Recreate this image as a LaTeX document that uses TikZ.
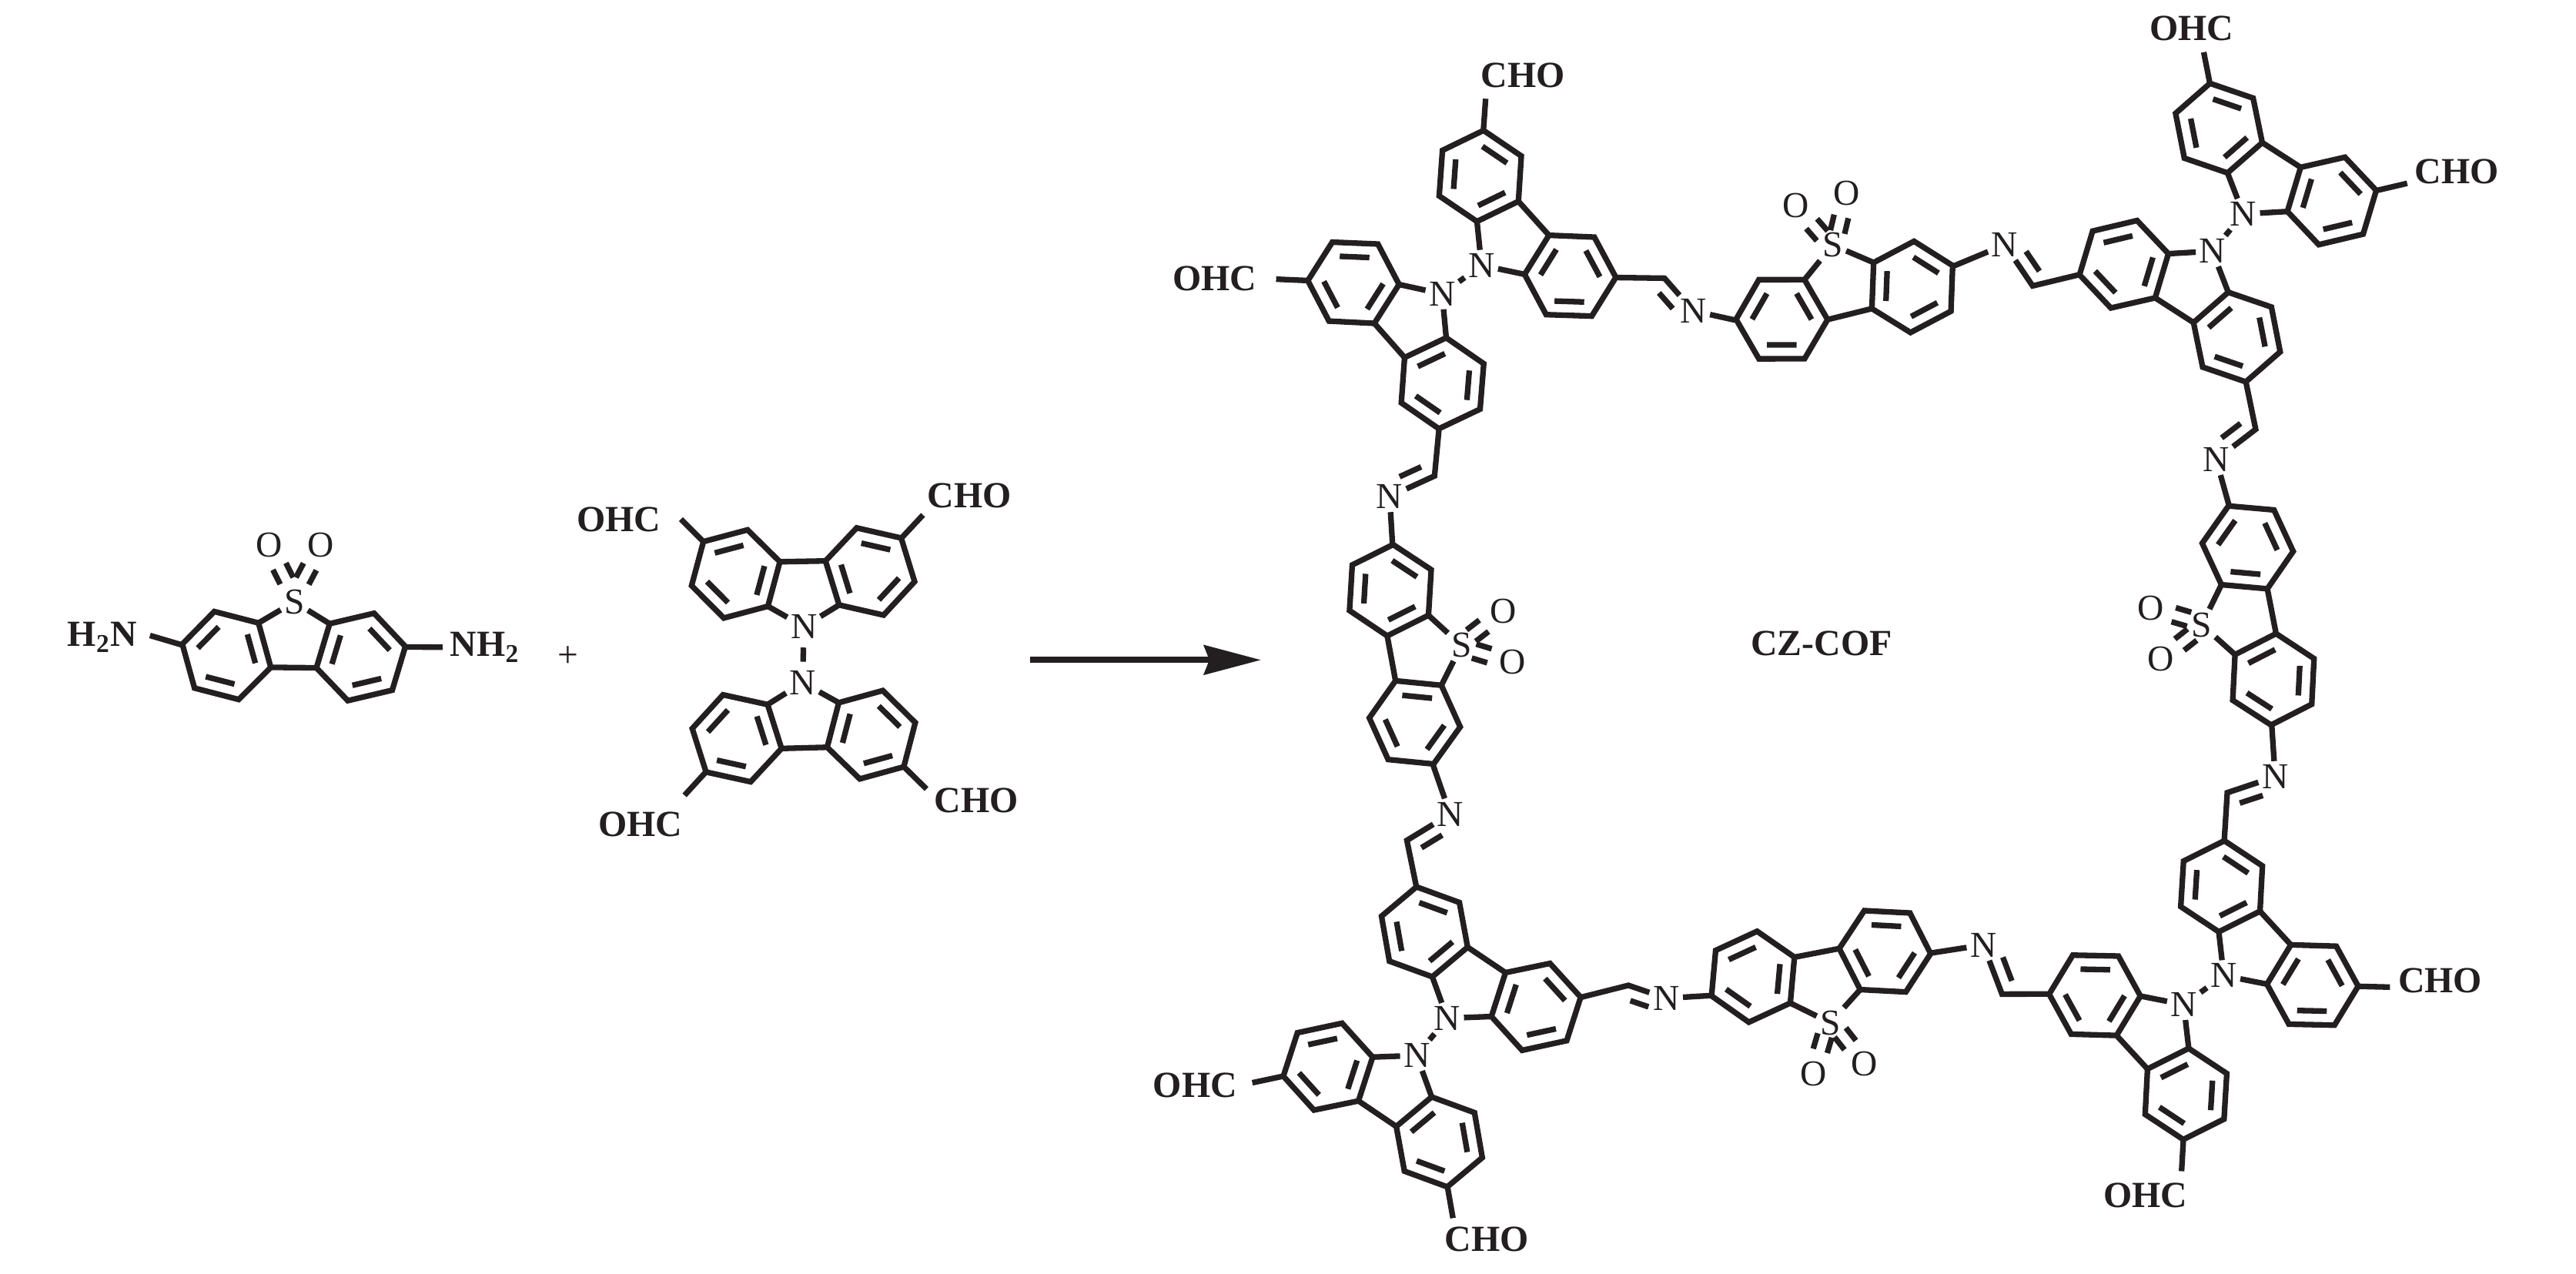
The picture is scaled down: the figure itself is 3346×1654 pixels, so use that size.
\documentclass[tikz,border=0pt]{standalone}
\usepackage{fontspec}
\setmainfont{Liberation Serif}
\usepackage{tikz}
\usetikzlibrary{calc,arrows.meta}
\definecolor{ink}{HTML}{231F20}
\tikzset{
  bond/.style={draw=ink,line width=0.073cm,line join=miter},
  atom/.style={text=ink,inner sep=0.04cm,font=\fontsize{13.5pt}{14pt}\selectfont},
  grp/.style={text=ink,inner sep=0pt,font=\fontsize{13.6pt}{14pt}\selectfont\bfseries}
}
\newcommand{\dbl}[3]{\draw[bond] ($(#3)!0.65!(#1)$) -- ($(#3)!0.65!(#2)$);}
\newcommand{\stub}[1]{\draw[bond] (#14) -- ($(#14)!-0.65!(#1c)$);}
\newcommand{\imine}[2]{\draw[bond] ($(#1)!0.17!(#2)!-0.18cm!90:(#2)$) -- ($(#1)!0.65!(#2)!-0.18cm!90:(#2)$);}
\newcommand{\tricyc}[6]{
  \begin{scope}[shift={(#2,#3)},rotate=#4,scale=60]
    \node[atom] (#1x) at (0,#6) {#5};
    \foreach \sg/\sd in {-1/l,1/r}{
      \coordinate (#1\sd1) at (\sg*0.78,0.49);
      \coordinate (#1\sd2) at (\sg*0.5,1.46);
      \coordinate (#1\sd3) at (\sg*1.196,2.172);
      \coordinate (#1\sd4) at (\sg*2.167,1.932);
      \coordinate (#1\sd5) at (\sg*2.444,0.971);
      \coordinate (#1\sd6) at (\sg*1.751,0.25);
      \coordinate (#1\sd c) at (\sg*1.47,1.21);
      \draw[bond] (#1\sd1) -- (#1\sd2) -- (#1\sd3) -- (#1\sd4) -- (#1\sd5) -- (#1\sd6) -- cycle;
      \dbl{#1\sd1}{#1\sd2}{#1\sd c} \dbl{#1\sd3}{#1\sd4}{#1\sd c} \dbl{#1\sd5}{#1\sd6}{#1\sd c}
      \draw[bond] (#1\sd1) -- (#1x);
    }
    \draw[bond] (#1l2) -- (#1r2);
  \end{scope}}
\newcommand{\sulfone}[6]{
  \tricyc{#1}{#2}{#3}{#4}{S}{#5}
  \begin{scope}[shift={(#2,#3)},rotate=#4,scale=60,shift={(0,#6)}]
    \foreach \sg/\sd in {-1/l,1/r}{
      \node[atom] (#1o\sd) at (\sg*0.56,-1.12) {O};
      \draw[bond] (\sg*0.31,-0.27) -- (\sg*0.47,-0.58);
      \draw[bond] (\sg*0.03,-0.42) -- (\sg*0.19,-0.73);
    }
  \end{scope}}
\begin{document}
\begin{tikzpicture}[x=0.01cm,y=0.01cm]
  \useasboundingbox (0,0) rectangle (3346,-1654);
  % monomers
  \sulfone{sm}{382.3}{-780.7}{179.4}{0.02}{-0.09}
  \node[grp] (nl) at (133,-828) {H\textsubscript{2}N};
  \node[grp] (nr) at (630,-841) {NH\textsubscript{2}};
  \coordinate (nle) at (194.8,-825.5); \coordinate (nre) at (574.8,-840.7);
  \draw[bond] (smr5) -- (nle); \draw[bond] (sml5) -- (nre);
  \node[atom] (plus) at (737.7,-852.6) {+};
  \tricyc{ca}{1044.2}{-815.75}{1}{N}{0.03}
  \tricyc{cb}{1042.5}{-885}{181.5}{N}{0.03}
  \draw[bond,shorten >=0.07cm,shorten <=0.07cm] (cax) -- (cbx);
  \stub{cal} \stub{car} \stub{cbl} \stub{cbr}
  \node[grp] (t1) at (803.8,-675) {OHC};
  \node[grp] (t2) at (1259,-644) {CHO};
  \node[grp] (t3) at (1268,-1040) {CHO};
  \node[grp] (t4) at (832,-1071) {OHC};
  % reaction arrow
  \coordinate (arl) at (1338,-857.3); \coordinate (arr) at (1638,-857.3);
  \draw[draw=ink,line width=0.08cm,-{Stealth[length=0.74cm,width=0.38cm,inset=0.07cm,fill=ink]}] (arl) -- (arr);
  % corners of the ring
  \tricyc{pa}{1927.8}{-341.5}{-48}{N}{-0.08}
  \tricyc{pb}{1869.6}{-384.9}{131.5}{N}{-0.08}
  \tricyc{qa}{2916.5}{-274.1}{-32.8}{N}{-0.08}
  \tricyc{qb}{2871.1}{-330.2}{147.2}{N}{-0.08}
  \tricyc{ua}{2891.9}{-1264.1}{-47.4}{N}{-0.08}
  \tricyc{ub}{2832.9}{-1308.2}{132.7}{N}{-0.08}
  \tricyc{va}{1882.6}{-1318.8}{-33.9}{N}{-0.08}
  \tricyc{vb}{1837.5}{-1375}{146}{N}{-0.08}
  \foreach \pr in {pa/pb,qa/qb,ua/ub,va/vb}{
    \foreach \ca/\cb in \pr {\draw[bond] (\ca x) -- (\cb x);}
  }
  % sides of the ring
  \sulfone{st}{2381.8}{-324}{193.9}{-0.1}{0}
  \sulfone{sr}{2865.7}{-810.5}{-79}{-0.1}{0}
  \sulfone{sb}{2376.3}{-1322.8}{10.9}{-0.1}{0}
  \sulfone{sl}{1892.4}{-839.5}{100.4}{-0.1}{0}
  % imine links
  \coordinate (h1) at (2162,-361.4);   \node[atom] (n1) at (2199.3,-403.8) {N};
  \coordinate (h2) at (2640.2,-371.4); \node[atom] (n2) at (2604,-317.9) {N};
  \coordinate (h3) at (2929.9,-557.7); \node[atom] (n3) at (2878.6,-596.9) {N};
  \coordinate (h4) at (2893,-1029.7);  \node[atom] (n4) at (2955.2,-1009) {N};
  \coordinate (h5) at (2600.4,-1291.4);\node[atom] (n5) at (2576.2,-1227.5) {N};
  \coordinate (h6) at (2115.1,-1280);  \node[atom] (n6) at (2164.2,-1296.7) {N};
  \coordinate (h7) at (1827.4,-1091.7);\node[atom] (n7) at (1883.5,-1057.5) {N};
  \coordinate (h8) at (1863.3,-618.3); \node[atom] (n8) at (1805,-645) {N};
  \draw[bond] (par4) -- (h1) -- (n1) -- (str5);
  \draw[bond] (qbr4) -- (h2) -- (n2) -- (stl5);
  \draw[bond] (qbl4) -- (h3) -- (n3) -- (srl5);
  \draw[bond] (ual4) -- (h4) -- (n4) -- (srr5);
  \draw[bond] (ubr4) -- (h5) -- (n5) -- (sbr5);
  \draw[bond] (var4) -- (h6) -- (n6) -- (sbl5);
  \draw[bond] (val4) -- (h7) -- (n7) -- (sll5);
  \draw[bond] (pbl4) -- (h8) -- (n8) -- (slr5);
  \imine{h1}{n1} \imine{h2}{n2} \imine{h3}{n3} \imine{h4}{n4}
  \imine{h5}{n5} \imine{h6}{n6} \imine{h7}{n7} \imine{h8}{n8}
  % free aldehydes
  \stub{pal} \stub{pbr} \stub{qal} \stub{qar} \stub{uar} \stub{ubl} \stub{vbl} \stub{vbr}
  \node[grp] (t5) at (1978,-98) {CHO};
  \node[grp] (t6) at (1578,-361.4) {OHC};
  \node[grp] (t7) at (2846.6,-36.7) {OHC};
  \node[grp] (t8) at (3191,-223) {CHO};
  \node[grp] (t9) at (3169.5,-1274) {CHO};
  \node[grp] (t10) at (2786.8,-1553) {OHC};
  \node[grp] (t11) at (1552.3,-1410) {OHC};
  \node[grp] (t12) at (1931,-1610) {CHO};
  \node[grp] (cof) at (2366,-836) {CZ-COF};
\end{tikzpicture}
\end{document}
